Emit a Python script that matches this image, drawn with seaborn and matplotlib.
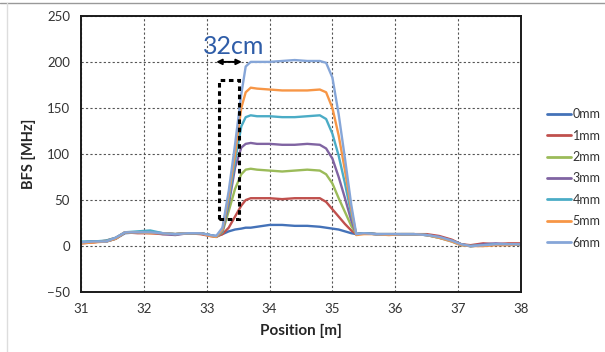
import matplotlib
matplotlib.use("Agg")
import matplotlib.pyplot as plt
import matplotlib.patches as patches
from matplotlib.lines import Line2D
import pandas as pd
import seaborn as sns

# --- data ---
position = [31.0, 31.2, 31.4, 31.55, 31.7, 31.9, 32.1, 32.3, 32.5, 32.7, 32.9,
            33.05, 33.15, 33.25, 33.35, 33.45, 33.55, 33.62, 33.7, 33.8, 34.0,
            34.2, 34.4, 34.6, 34.8, 34.9, 35.0, 35.1, 35.2, 35.3, 35.38, 35.5,
            35.7, 35.9, 36.1, 36.3, 36.5, 36.7, 36.9, 37.05, 37.2, 37.4, 37.6,
            37.8, 38.0]

bfs_0mm = [4, 5, 5, 8, 14, 15, 15, 14, 13, 14, 14, 12, 11, 13, 16, 18, 19, 20,
           20, 21, 23, 23, 22, 22, 21, 20, 19, 18, 16, 14, 13, 14, 13, 13, 13,
           13, 12, 10, 6, 2, 0, 1, 2, 2, 2]
bfs_1mm = [3, 4, 6, 9, 15, 14, 14, 13, 13, 14, 13, 11, 10, 13, 20, 32, 44, 50,
           52, 52, 52, 51, 52, 52, 52, 48, 40, 32, 24, 17, 13, 14, 13, 13, 13,
           13, 13, 11, 7, 2, 1, 3, 2, 3, 3]
bfs_2mm = [4, 5, 5, 8, 15, 15, 15, 14, 13, 14, 14, 12, 10, 15, 38, 62, 78, 83,
           84, 83, 82, 81, 82, 83, 82, 78, 68, 52, 37, 22, 13, 14, 13, 13, 13,
           13, 12, 9, 6, 2, 0, 1, 2, 2, 2]
bfs_3mm = [4, 5, 5, 8, 15, 15, 15, 13, 12, 14, 14, 12, 10, 16, 45, 85, 107, 111,
           112, 111, 111, 110, 110, 111, 110, 106, 95, 75, 52, 28, 13, 14, 13,
           13, 13, 13, 12, 10, 6, 2, 0, 2, 3, 2, 2]
bfs_4mm = [5, 5, 6, 9, 15, 16, 17, 14, 13, 14, 14, 12, 10, 17, 50, 92, 130, 140,
           142, 141, 141, 140, 140, 141, 142, 138, 122, 98, 68, 35, 13, 14, 13,
           13, 13, 13, 12, 9, 5, 1, 0, 1, 2, 2, 2]
bfs_5mm = [3, 4, 5, 8, 15, 15, 14, 14, 13, 14, 14, 11, 10, 18, 55, 100, 150,
           167, 172, 171, 170, 169, 169, 169, 170, 167, 150, 120, 82, 40, 12,
           13, 13, 12, 13, 13, 12, 9, 5, 1, 0, 0, 1, 1, 2]
bfs_6mm = [4, 5, 5, 9, 15, 15, 15, 14, 13, 14, 14, 12, 11, 20, 60, 110, 165,
           195, 200, 200, 200, 201, 202, 201, 201, 199, 183, 143, 95, 45, 13,
           14, 13, 13, 13, 13, 12, 10, 6, 2, 0, 1, 2, 2, 2]

labels = ["0mm", "1mm", "2mm", "3mm", "4mm", "5mm", "6mm"]
series = [bfs_0mm, bfs_1mm, bfs_2mm, bfs_3mm, bfs_4mm, bfs_5mm, bfs_6mm]
colors = ["#4472B8", "#C0504D", "#9BBB59", "#8064A2", "#4BACC6", "#F79646", "#86A6D8"]

y_ticks = [-50, 0, 50, 100, 150, 200, 250]
x_ticks = [31, 32, 33, 34, 35, 36, 37, 38]

# long-form table for seaborn
df = pd.concat(
    [pd.DataFrame({"Position": position, "BFS": vals, "Offset": lab})
     for lab, vals in zip(labels, series)],
    ignore_index=True,
)

sns.set_style("white")
plt.rcParams["font.family"] = ["Lato", "DejaVu Sans"]

fig = plt.figure(figsize=(6.05, 3.52), dpi=100)
ax = fig.add_axes([0.134, 0.170, 0.727, 0.785])

sns.lineplot(data=df, x="Position", y="BFS", hue="Offset", hue_order=labels,
             palette=colors, linewidth=1.7, ax=ax, legend=False)

ax.set_xlim(31, 38)
ax.set_ylim(-50, 250)
ax.set_xticks(x_ticks)
ax.set_yticks(y_ticks)
ax.tick_params(length=0, labelsize=9.5, labelcolor="#333333", pad=8)
ax.grid(True, color="#555555", linestyle=(0, (2, 2)), linewidth=0.8)
ax.set_axisbelow(True)
for side in ["left", "bottom", "right", "top"]:
    ax.spines[side].set_color("#1a1a1a")
    ax.spines[side].set_linewidth(1.4)
    ax.spines[side].set_visible(True)

ax.set_xlabel("Position [m]", fontsize=11, fontweight="bold", labelpad=6)
ax.set_ylabel("BFS [MHz]", fontsize=10.5, fontweight="bold", labelpad=8)

# annotations: dashed window, arrow and width label
ax.add_patch(patches.Rectangle((33.2, 29), 0.31, 151, fill=False,
                               edgecolor="black", linewidth=2.2,
                               linestyle=(0, (1.5, 1.2)), zorder=5))
ax.annotate("", xy=(33.15, 200), xytext=(33.56, 200),
            arrowprops=dict(arrowstyle="<|-|>", color="black", lw=1.4,
                            mutation_scale=8, shrinkA=0, shrinkB=0))
ax.text(33.43, 217, "32cm", ha="center", va="center", fontsize=18,
        color="#2F5DA8")

handles = [Line2D([0], [0], color=c, linewidth=2) for c in colors]
fig.legend(handles, labels, loc="center left", bbox_to_anchor=(0.904, 0.493),
           frameon=False, fontsize=9, handlelength=1.9, handletextpad=0.15,
           labelspacing=0.75, labelcolor="#333333", borderaxespad=0,
           borderpad=0)

# outer frame lines of the original image
fig.add_artist(Line2D([0, 1], [0.991, 0.991], color="#999999", linewidth=1,
                      transform=fig.transFigure))
fig.add_artist(Line2D([0.012, 0.012], [0, 0.991], color="#dddddd", linewidth=1,
                      transform=fig.transFigure))

fig.savefig("out.png", dpi=100)
